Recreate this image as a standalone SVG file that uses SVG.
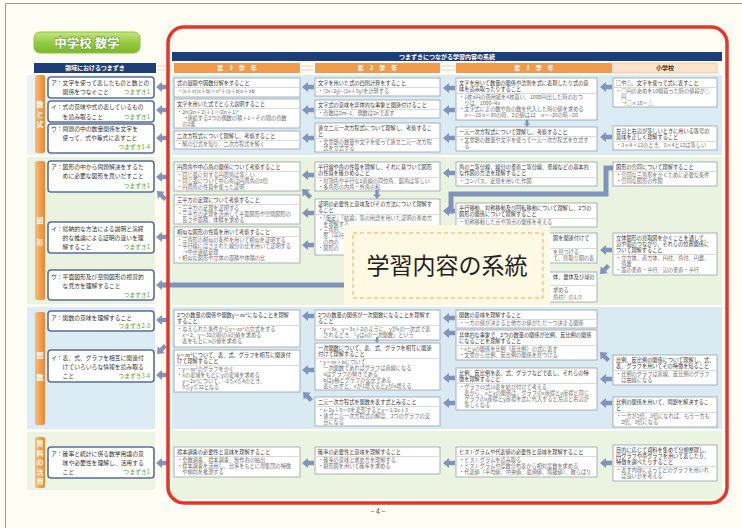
<svg xmlns="http://www.w3.org/2000/svg" xmlns:xlink="http://www.w3.org/1999/xlink" width="742" height="528" viewBox="0 0 742 528">
<defs>
<style>
text{font-family:"Noto Sans CJK JP","Noto Sans",sans-serif}
.box rect{fill:#fff;stroke:#9aa0a8;stroke-width:0.8}
.sep{stroke:#b4b4b4;stroke-width:0.5}
.t{font-size:5.2px;fill:#333}
.b{font-size:5.2px;fill:#6a6a6a}
.lb rect{fill:#fff;stroke:#5a6e98;stroke-width:1.6}
.lt{font-size:5.8px;fill:#333}
.ts{font-size:5.8px;fill:#5ea52a;text-anchor:end}
.ch{fill:#f29a4c}
.cht{font-size:6px;fill:#fff;text-anchor:middle;font-weight:bold}
.tab{fill:url(#tabg)}
.tabt{font-size:7px;fill:#fff;text-anchor:middle;font-weight:bold}
.arr{fill:#7f93bd}
.ln{fill:none;stroke:#7f93bd;stroke-width:5}
</style>
<linearGradient id="tabg" x1="0" y1="0" x2="1" y2="0"><stop offset="0" stop-color="#f8bd78"/><stop offset="1" stop-color="#ea8530"/></linearGradient>
<linearGradient id="grn" x1="0" y1="0" x2="0" y2="1"><stop offset="0" stop-color="#c4e67e"/><stop offset="0.5" stop-color="#96cc44"/><stop offset="1" stop-color="#7cb82c"/></linearGradient>
<path id="al" d="M0,0 L6,-5 L6,-2.2 L12,-2.2 L12,2.2 L6,2.2 L6,5 Z"/>
</defs>
<rect width="742" height="528" fill="#fdfdf4"/>
<path d="M5.5,528 V3.5 H742" fill="none" stroke="#9a9a9a" stroke-width="1"/>

<!-- bands -->
<g id="bands">
<rect x="27" y="75" width="128" height="80" fill="#ebf3f4"/>
<rect x="27" y="157" width="128" height="147" fill="#eaf2e1"/>
<rect x="27" y="307" width="128" height="122" fill="#dcecf4"/>
<rect x="27" y="432" width="128" height="58" fill="#edf4e4"/>
<rect x="172" y="75" width="550" height="80" fill="#dbebf3"/>
<rect x="172" y="157" width="550" height="148" fill="#eaf3df"/>
<rect x="172" y="307" width="550" height="122" fill="#d9eaf3"/>
<rect x="172" y="431" width="550" height="68" fill="#ebf3e1"/>
</g>

<!-- title -->
<g id="title">
<rect x="34" y="32" width="106" height="21" rx="6" fill="url(#grn)" stroke="#8cc23e" stroke-width="1"/>
<text x="87" y="47.5" font-size="12.5" font-weight="bold" fill="#fff" text-anchor="middle" stroke="#5f9a28" stroke-width="1.2" paint-order="stroke">中学校 数学</text>
</g>

<!-- headers -->
<g id="headers">
<rect x="34" y="63" width="122" height="10" fill="#1d3f78"/>
<text x="95" y="70.3" font-size="6" fill="#fff" text-anchor="middle" font-weight="bold">領域におけるつまずき</text>
<rect x="172" y="52" width="550" height="9" fill="#1b3f7a"/>
<text x="447" y="59" font-size="6" fill="#fff" text-anchor="middle" font-weight="bold">つまずきにつながる学習内容の系統</text>
<rect class="ch" x="174" y="63" width="126" height="10"/>
<text class="cht" x="237" y="70.3">第　3　学　年</text>
<rect class="ch" x="315" y="63" width="125" height="10"/>
<text class="cht" x="377.5" y="70.3">第　2　学　年</text>
<rect class="ch" x="456" y="63" width="156" height="10"/>
<text class="cht" x="534" y="70.3">第　1　学　年</text>
<rect x="613" y="63" width="104" height="10" fill="#fce3cd" stroke="#f2b07a" stroke-width="0.6"/>
<text x="665" y="70.3" font-size="6" fill="#333" text-anchor="middle" font-weight="bold">小学校</text>
<path d="M157,66 H171 M157,70 H171 M301,66 H314 M301,70 H314 M441,66 H455 M441,70 H455" stroke="#f6d2b4" stroke-width="1.2"/>
</g>

<!-- left tabs -->
<g id="tabs">
<rect class="tab" x="35" y="75" width="10" height="78" rx="2"/>
<text class="tabt"><tspan x="40" y="107">数</tspan><tspan x="40" y="117">と</tspan><tspan x="40" y="127">式</tspan></text>
<rect class="tab" x="35" y="161" width="10" height="139" rx="2"/>
<text class="tabt"><tspan x="40" y="223">図</tspan><tspan x="40" y="245">形</tspan></text>
<rect class="tab" x="35" y="312" width="10" height="113" rx="2"/>
<text class="tabt"><tspan x="40" y="358">関</tspan><tspan x="40" y="380">数</tspan></text>
<rect class="tab" x="35" y="437" width="10" height="51" rx="2"/>
<text class="tabt" font-size="6.5"><tspan x="40" y="446">資</tspan><tspan x="40" y="455.5">料</tspan><tspan x="40" y="465">の</tspan><tspan x="40" y="474.5">活</tspan><tspan x="40" y="484">用</tspan></text>
</g>

<!-- left boxes -->
<g id="L1a" class="lb"><rect x="48" y="77" width="106" height="21" rx="3"/><text class="lt" x="51" y="84.5">ア：文字を使って表したものと数との</text><text class="lt" x="62.6" y="94">関係をつなぐこと</text><text class="ts" x="150" y="94">つまずき1</text></g>
<g id="L1b" class="lb"><rect x="48" y="101" width="106" height="21" rx="3"/><text class="lt" x="51" y="109">イ：式の意味や式の表しているもの</text><text class="lt" x="62.6" y="118.5">を読み取ること</text><text class="ts" x="150" y="118.5">つまずき1</text></g>
<g id="L1c" class="lb"><rect x="48" y="124" width="106" height="29" rx="3"/><text class="lt" x="51" y="131">ウ：問題の中の数量関係を文字を</text><text class="lt" x="62.6" y="140">使って、式や等式に表すこと</text><text class="ts" x="150" y="149">つまずき1-4</text></g>
<g id="L2a" class="lb"><rect x="48" y="161" width="106" height="31" rx="3"/><text class="lt" x="51" y="169">ア：図形の中から問題解決をするた</text><text class="lt" x="62.6" y="178">めに必要な図形を見いだすこと</text><text class="ts" x="150" y="187.5">つまずき1</text></g>
<g id="L2b" class="lb"><rect x="48" y="222" width="106" height="31" rx="3"/><text class="lt" x="51" y="231">イ：帰納的な方法による説明と演繹</text><text class="lt" x="62.6" y="240">的な推論による証明の違いを理</text><text class="lt" x="62.6" y="249">解すること</text><text class="ts" x="150" y="249">つまずき1</text></g>
<g id="L2c" class="lb"><rect x="48" y="270" width="106" height="30" rx="3"/><text class="lt" x="51" y="279">ウ：平面図形及び空間図形の視覚的</text><text class="lt" x="62.6" y="288">な見方を理解すること</text><text class="ts" x="150" y="297">つまずき1</text></g>
<g id="L3a" class="lb"><rect x="48" y="311" width="106" height="20" rx="3"/><text class="lt" x="51" y="319.5">ア：関数の意味を理解すること</text><text class="ts" x="150" y="328">つまずき2-3</text></g>
<g id="L3b" class="lb"><rect x="48" y="350" width="106" height="32" rx="3"/><text class="lt" x="51" y="360">イ：表、式、グラフを相互に関連付</text><text class="lt" x="62.6" y="369">けていろいろな情報を読み取る</text><text class="lt" x="62.6" y="378">こと</text><text class="ts" x="150" y="378">つまずき3-4</text></g>
<g id="L4a" class="lb"><rect x="48" y="447" width="106" height="31" rx="3"/><text class="lt" x="51" y="456">ア：確率と統計に係る数学用語の意</text><text class="lt" x="62.6" y="465">味や必要性を理解し、活用する</text><text class="lt" x="62.6" y="474">こと</text><text class="ts" x="150" y="474">つまずき1</text></g>

<!-- Grade 3 -->
<g id="g3a" class="box"><rect x="174" y="78" width="126" height="19"/><text class="t" x="177" y="84.5">式の展開や因数分解をすること</text><line class="sep" x1="175" y1="87.5" x2="299" y2="87.5"/><text class="b" x="177" y="93.3">・(x＋a)(x＋b)＝x²＋(a＋b)x＋ab</text></g>
<g id="g3b" class="box"><rect x="174" y="99" width="126" height="29"/><text class="t" x="177" y="105.5">文字を用いた式でとらえ説明すること</text><line class="sep" x1="175" y1="108.5" x2="299" y2="108.5"/><text class="b" x="177" y="114.3">・2n(2n＋2)＋1＝(2n＋1)²</text><text class="b" x="177" y="120.3">　→連続する2つの偶数の積＋1＝その間の奇数</text><text class="b" x="177" y="126.3">　の2乗</text></g>
<g id="g3c" class="box"><rect x="174" y="131" width="126" height="18"/><text class="t" x="177" y="137.5">二次方程式について理解し、考察すること</text><line class="sep" x1="175" y1="140.5" x2="299" y2="140.5"/><text class="b" x="177" y="146.3">・解の公式を知り、二次方程式を解く</text></g>
<g id="g3d" class="box"><rect x="174" y="162" width="126" height="29"/><text class="t" x="177" y="168.5">円周角や中心角の関係について考察すること</text><line class="sep" x1="175" y1="171.5" x2="299" y2="171.5"/><text class="b" x="177" y="177.3">・同じ弧に対する円周角は等しい</text><text class="b" x="177" y="183.3">・同じ弧について中心角は円周角の2倍</text><text class="b" x="177" y="189.3">・円周角の性質を使った証明</text></g>
<g id="g3e" class="box"><rect x="174" y="195" width="126" height="29"/><text class="t" x="177" y="201.5">三平方の定理について考察すること</text><line class="sep" x1="175" y1="204.5" x2="299" y2="204.5"/><text class="b" x="177" y="210.3">・三平方の定理を証明する</text><text class="b" x="177" y="216.3">・三平方の定理を活用して平面図形や空間図形の</text><text class="b" x="177" y="222.3">　長さや面積、体積を求める</text></g>
<g id="g3f" class="box"><rect x="174" y="227" width="126" height="36"/><text class="t" x="177" y="233.5">相似な図形の性質を用いて考察すること</text><line class="sep" x1="175" y1="236.5" x2="299" y2="236.5"/><text class="b" x="177" y="242.3">・三角形の相似の条件を用いて相似を証明する</text><text class="b" x="177" y="248.3">・平行線にはさまれた線分の比を用いて証明する</text><text class="b" x="177" y="254.3">　→中点連結定理</text><text class="b" x="177" y="260.3">・相似な図形や立体の面積や体積の比</text></g>
<g id="g3g" class="box"><rect x="174" y="310" width="126" height="37"/><text class="t" x="177" y="316.5">2つの数量の関係や関数y＝ax²になることを理解</text><text class="t" x="177" y="322.5">すること</text><line class="sep" x1="175" y1="325.5" x2="299" y2="325.5"/><text class="b" x="177" y="331.3">・与えられた条件からy＝ax²の立式をする</text><text class="b" x="177" y="337.3">　x＝2、y＝32の時のaの値を求める</text><text class="b" x="177" y="343.3">　表をもとにaの値を求める</text></g>
<g id="g3h" class="box"><rect x="174" y="350" width="126" height="42"/><text class="t" x="177" y="356.5">y＝ax²について、表、式、グラフを相互に関連付</text><text class="t" x="177" y="362.5">けて理解すること</text><line class="sep" x1="175" y1="365.5" x2="299" y2="365.5"/><text class="b" x="177" y="371.3">・y＝ax²のグラフをかく</text><text class="b" x="177" y="377.3">・xの変域をもとにyの変域を求める</text><text class="b" x="177" y="383.3">　y＝2x²について、−2≦x≦4のとき、</text><text class="b" x="177" y="389.3">　0≦y≦32となる</text></g>
<g id="g3i" class="box"><rect x="174" y="447" width="126" height="30"/><text class="t" x="177" y="453.5">標本調査の必要性と意味を理解すること</text><line class="sep" x1="175" y1="456.5" x2="299" y2="456.5"/><text class="b" x="177" y="462.3">・全数調査、標本調査、無作為の抽出</text><text class="b" x="177" y="468.3">・標本調査を活用し、比率をもとに母集団の特徴</text><text class="b" x="177" y="474.3">　や傾向を推測する</text></g>

<!-- Grade 2 -->
<g id="g2a" class="box"><rect x="315" y="78" width="125" height="18"/><text class="t" x="318" y="84.5">文字を用いた式の四則計算をすること</text><line class="sep" x1="316" y1="87.5" x2="439" y2="87.5"/><text class="b" x="318" y="93.3">・(3x−2y)−(2x＋5y)を計算する</text></g>
<g id="g2b" class="box"><rect x="315" y="100" width="125" height="18"/><text class="t" x="318" y="106.5">文字式の意味を具体的な事象と関連付けること</text><line class="sep" x1="316" y1="109.5" x2="439" y2="109.5"/><text class="b" x="318" y="115.3">・奇数は2m−1、偶数は2nで表す</text></g>
<g id="g2c" class="box"><rect x="315" y="123" width="125" height="29"/><text class="t" x="318" y="129.5">連立二元一次方程式について理解し、考察するこ</text><text class="t" x="318" y="135.5">と</text><line class="sep" x1="316" y1="138.5" x2="439" y2="138.5"/><text class="b" x="318" y="144.3">・文章題の数量や文字を使って連立二元一次方程</text><text class="b" x="318" y="150.3">　式を立式する</text></g>
<g id="g2d" class="box"><rect x="315" y="162" width="125" height="29"/><text class="t" x="318" y="168.5">平行線や角の性質を理解し、それに基づいて図形</text><text class="t" x="318" y="174.5">の性質を確かめること</text><line class="sep" x1="316" y1="177.5" x2="439" y2="177.5"/><text class="b" x="318" y="183.3">・対頂角や平行な2直線の同位角、錯角は等しい</text><text class="b" x="318" y="189.3">・多角形の内角・外角の和</text></g>
<g id="g2e" class="box"><rect x="315" y="199" width="125" height="56"/><text class="t" x="318" y="205.5">証明の必要性と意味及びその方法について理解す</text><text class="t" x="318" y="211.5">ること</text><line class="sep" x1="316" y1="214.5" x2="439" y2="214.5"/><text class="b" x="318" y="220.3">・「仮定」「結論」等の用語を用いた証明の進め方</text><text class="b" x="318" y="226.3">　を理解する</text><text class="b" x="318" y="232.3">・三角形、</text><text class="b" x="318" y="238.3">　形（平行</text><text class="b" x="318" y="244.3">　の内の</text><text class="b" x="318" y="250.3">・図形の</text></g>
<g id="g2f" class="box"><rect x="315" y="310" width="125" height="30"/><text class="t" x="318" y="316.5">2つの数量の関係が一次関数になることを理解す</text><text class="t" x="318" y="322.5">ること</text><line class="sep" x1="316" y1="325.5" x2="439" y2="325.5"/><text class="b" x="318" y="331.3">・y＝3x、y＝3x＋2のように、yがxの一次式で表</text><text class="b" x="318" y="337.3">　されるとき、「yはxの一次関数」という</text></g>
<g id="g2g" class="box"><rect x="315" y="343" width="125" height="47"/><text class="t" x="318" y="349.5">一次関数について、表、式、グラフを相互に関連</text><text class="t" x="318" y="355.5">付けて理解すること</text><line class="sep" x1="316" y1="358.5" x2="439" y2="358.5"/><text class="b" x="318" y="364.3">・y＝ax＋bについて</text><text class="b" x="318" y="370.3">　一次関数であればグラフは直線になる</text><text class="b" x="318" y="376.3">　aはグラフの傾きである</text><text class="b" x="318" y="382.3">　bはy軸とグラフの交点である</text><text class="b" x="318" y="388.3">　表に示すと、xが1増えるとyがa増える</text></g>
<g id="g2h" class="box"><rect x="315" y="397" width="125" height="29"/><text class="t" x="318" y="403.5">二元一次方程式を関数を表す式とみること</text><line class="sep" x1="316" y1="406.5" x2="439" y2="406.5"/><text class="b" x="318" y="412.3">・x−2y＋6＝0を変形するとy＝1/2x＋3</text><text class="b" x="318" y="418.3">・連立二元一次方程式の解は、2つのグラフの交</text><text class="b" x="318" y="424.3">　点になる</text></g>
<g id="g2i" class="box"><rect x="315" y="447" width="125" height="27"/><text class="t" x="318" y="453.5">確率の必要性と意味を理解すること</text><line class="sep" x1="316" y1="456.5" x2="439" y2="456.5"/><text class="b" x="318" y="462.3">・確率の意味と求め方を理解する</text><text class="b" x="318" y="468.3">・樹形図を用いて確率を求める</text></g>

<!-- Grade 1 -->
<g id="g1a" class="box"><rect x="456" y="78" width="141" height="42"/><text class="t" x="459" y="84.5">文字を用いて数量の関係や法則を式に表現したり式の意</text><text class="t" x="459" y="90.5">味を読み取ったりすること</text><line class="sep" x1="457" y1="93.5" x2="596" y2="93.5"/><text class="b" x="459" y="99.3">・1枚a円の画用紙を4枚買い、1000円出した時のおつ</text><text class="b" x="459" y="105.3">　りは、1000−4a</text><text class="b" x="459" y="111.3">・文字式に正の数や負の数を代入した時の値を求める</text><text class="b" x="459" y="117.3">　a＝−18 a＝30の時、2の値は12　a＝−20の時 −20</text></g>
<g id="g1b" class="box"><rect x="456" y="127" width="141" height="24"/><text class="t" x="459" y="133.5">一元一次方程式について理解し、考察すること</text><line class="sep" x1="457" y1="136.5" x2="596" y2="136.5"/><text class="b" x="459" y="142.3">・文章題の数量や文字を使って一元一次方程式を立式す</text><text class="b" x="459" y="148.3">　る</text></g>
<g id="g1c" class="box"><rect x="456" y="162" width="141" height="24"/><text class="t" x="459" y="168.5">角の二等分線、線分の垂直二等分線、垂線などの基本的</text><text class="t" x="459" y="174.5">な作図の方法を理解すること</text><line class="sep" x1="457" y1="177.5" x2="596" y2="177.5"/><text class="b" x="459" y="183.3">・コンパス、定規を用いた作図</text></g>
<g id="g1d" class="box"><rect x="456" y="203" width="141" height="24"/><text class="t" x="459" y="209.5">平行移動、対称移動及び回転移動について理解し、2つの</text><text class="t" x="459" y="215.5">図形の関係について理解すること</text><line class="sep" x1="457" y1="218.5" x2="596" y2="218.5"/><text class="b" x="459" y="224.3">・対称移動した点や頂点の関係を考える</text></g>
<g id="g1e" class="box"><rect x="456" y="233" width="141" height="30"/><text class="t" x="553" y="239.5">図を関連付けて</text><line class="sep" x1="457" y1="248.5" x2="596" y2="248.5"/><text class="b" x="553" y="254.3">を見つける</text><text class="b" x="553" y="260.3">て、見取り図の表</text></g>
<g id="g1f" class="box"><rect x="456" y="272" width="141" height="30"/><text class="t" x="553" y="278.5">体、錐体及び球の</text><line class="sep" x1="457" y1="285.5" x2="596" y2="285.5"/><text class="b" x="553" y="292.3">求める</text><text class="b" x="553" y="298.8">角柱）の1/3</text></g>
<g id="g1g" class="box"><rect x="456" y="310" width="141" height="18"/><text class="t" x="459" y="316.5">関数の意味を理解すること</text><line class="sep" x1="457" y1="319.5" x2="596" y2="319.5"/><text class="b" x="459" y="325.3">・一方の値が決まると他方の値がただ一つ決まる関係</text></g>
<g id="g1h" class="box"><rect x="456" y="330" width="141" height="30"/><text class="t" x="459" y="336.5">具体的な事象で、2つの数量の関係が比例、反比例の関係</text><text class="t" x="459" y="342.5">になることを理解すること</text><line class="sep" x1="457" y1="345.5" x2="596" y2="345.5"/><text class="b" x="459" y="351.3">・xとyの関係を比例（反比例）の式に表す</text><text class="b" x="459" y="357.3">・文章から比例、反比例の関係を見つける</text></g>
<g id="g1i" class="box"><rect x="456" y="368" width="141" height="42"/><text class="t" x="459" y="374.5">比例、反比例を表、式、グラフなどで表し、それらの特</text><text class="t" x="459" y="380.5">徴を理解すること</text><line class="sep" x1="457" y1="383.5" x2="596" y2="383.5"/><text class="b" x="459" y="389.3">・グラフ⇔式⇔表を結び付けて考える</text><text class="b" x="459" y="395.3">　表から、xとyの関係は、グラフのx座標とy座標と同じ</text><text class="b" x="459" y="401.3">　グラフのx座標とy座標を式に代入すると左辺と右辺が</text><text class="b" x="459" y="407.3">　等しくなる</text></g>
<g id="g1j" class="box"><rect x="456" y="447" width="141" height="30"/><text class="t" x="459" y="453.5">ヒストグラムや代表値の必要性と意味を理解すること</text><line class="sep" x1="457" y1="456.5" x2="596" y2="456.5"/><text class="b" x="459" y="462.3">・ヒストグラムを読み取る</text><text class="b" x="459" y="468.3">・ヒストグラムや度数分布表から相対度数を求める</text><text class="b" x="459" y="474.3">・代表値（平均値、中央値、最頻値、階級値）、散らばり</text></g>

<!-- Elementary -->
<g id="esa" class="box"><rect x="613" y="78" width="104" height="29"/><text class="t" x="616" y="84.5">□や△、文字を使って式に表すこと</text><line class="sep" x1="614" y1="87.5" x2="716" y2="87.5"/><text class="b" x="616" y="93.3">・□円のあめを10個買った時の値段が△</text><text class="b" x="616" y="99.3">　円</text><text class="b" x="616" y="105.3">　→□×10＝△</text></g>
<g id="esb" class="box"><rect x="613" y="126" width="104" height="24"/><text class="t" x="616" y="132.5">左辺と右辺が等しいときに用いる等号の</text><text class="t" x="616" y="138.5">意味を正しく理解すること</text><line class="sep" x1="614" y1="141.5" x2="716" y2="141.5"/><text class="b" x="616" y="147.3">・3×4＝12のとき、3×4と12は等しい</text></g>
<g id="esc" class="box"><rect x="613" y="162" width="104" height="24"/><text class="t" x="616" y="168.5">図形の合同について理解すること</text><line class="sep" x1="614" y1="171.5" x2="716" y2="171.5"/><text class="b" x="616" y="177.3">・合同な三角形をかくために必要な条件</text><text class="b" x="616" y="183.3">・合同な図形の作図</text></g>
<g id="esd" class="box"><rect x="613" y="233" width="104" height="42"/><text class="t" x="616" y="239.5">立体図形の見取図をかくことを通して、</text><text class="t" x="616" y="245.5">辺や面のつながり、それらの位置関係に</text><text class="t" x="616" y="251.5">ついて理解すること</text><line class="sep" x1="614" y1="254.5" x2="716" y2="254.5"/><text class="b" x="616" y="260.3">・立方体、直方体、円柱、角柱、円錐、</text><text class="b" x="616" y="266.3">　角錐</text><text class="b" x="616" y="272.3">・面の垂直・平行、辺の垂直・平行</text></g>
<g id="ese" class="box"><rect x="613" y="355" width="104" height="30"/><text class="t" x="616" y="361.5">比例、反比例の関係について理解し、式、</text><text class="t" x="616" y="367.5">表、グラフを用いてその特徴を知ること</text><line class="sep" x1="614" y1="370.5" x2="716" y2="370.5"/><text class="b" x="616" y="376.3">・比例のグラフは直線、反比例のグラフ</text><text class="b" x="616" y="382.3">　は曲線になる</text></g>
<g id="esf" class="box"><rect x="613" y="397" width="104" height="30"/><text class="t" x="616" y="403.5">比例の関係を用いて、問題を解決するこ</text><text class="t" x="616" y="409.5">と</text><line class="sep" x1="614" y1="412.5" x2="716" y2="412.5"/><text class="b" x="616" y="418.3">・一方が2倍、3倍になれば、もう一方も</text><text class="b" x="616" y="424.3">　2倍、3倍になる</text></g>
<g id="esg" class="box"><rect x="613" y="445" width="104" height="36"/><text class="t" x="616" y="451.5">目的に応じて資料を集めて分類整理し、</text><text class="t" x="616" y="457.5">円グラフや帯グラフを用いて表したり、</text><text class="t" x="616" y="463.5">特徴を調べたりすること</text><line class="sep" x1="614" y1="466.5" x2="716" y2="466.5"/><text class="b" x="616" y="472.3">・表す内容によってどのグラフを用いれ</text><text class="b" x="616" y="478.3">　ば良いかを考える</text></g>

<!-- connectors -->
<g id="connectors" class="arr">
<path class="ln" d="M613,168 H606 V194 H451 V211 H449"/>
<use xlink:href="#al" href="#al" x="443" y="211"/>
<path class="ln" d="M456,285 H162"/>
<use xlink:href="#al" href="#al" x="156" y="285"/>
<use xlink:href="#al" href="#al" x="156" y="87"/>
<use xlink:href="#al" href="#al" x="156" y="110"/>
<use xlink:href="#al" href="#al" x="156" y="138"/>
<use xlink:href="#al" href="#al" x="156" y="177"/>
<use xlink:href="#al" href="#al" x="156" y="237"/>
<use xlink:href="#al" href="#al" x="156" y="320"/>
<use xlink:href="#al" href="#al" x="156" y="375"/>
<use xlink:href="#al" href="#al" x="156" y="463"/>
<use xlink:href="#al" href="#al" transform="translate(157,191) rotate(45)"/>
<use xlink:href="#al" href="#al" transform="translate(157,354) rotate(-45)"/>
<use xlink:href="#al" href="#al" x="302" y="87"/>
<use xlink:href="#al" href="#al" x="302" y="110"/>
<use xlink:href="#al" href="#al" x="302" y="138"/>
<use xlink:href="#al" href="#al" x="302" y="175"/>
<use xlink:href="#al" href="#al" x="302" y="213"/>
<use xlink:href="#al" href="#al" x="302" y="245"/>
<use xlink:href="#al" href="#al" x="302" y="316"/>
<use xlink:href="#al" href="#al" x="302" y="370"/>
<use xlink:href="#al" href="#al" x="302" y="463"/>
<use xlink:href="#al" href="#al" transform="translate(302,189) rotate(45)"/>
<use xlink:href="#al" href="#al" transform="translate(303,392) rotate(45)"/>
<use xlink:href="#al" href="#al" x="443" y="88"/>
<use xlink:href="#al" href="#al" x="443" y="110"/>
<use xlink:href="#al" href="#al" x="443" y="138"/>
<use xlink:href="#al" href="#al" x="443" y="173"/>
<use xlink:href="#al" href="#al" x="443" y="318"/>
<use xlink:href="#al" href="#al" x="443" y="333"/>
<use xlink:href="#al" href="#al" x="443" y="378"/>
<use xlink:href="#al" href="#al" x="443" y="403"/>
<use xlink:href="#al" href="#al" x="443" y="463"/>
<use xlink:href="#al" href="#al" x="600" y="87"/>
<use xlink:href="#al" href="#al" x="600" y="137"/>
<use xlink:href="#al" href="#al" x="600" y="250"/>
<use xlink:href="#al" href="#al" x="600" y="379"/>
<use xlink:href="#al" href="#al" x="600" y="403"/>
<use xlink:href="#al" href="#al" x="600" y="463"/>
<use xlink:href="#al" href="#al" transform="translate(600,274) rotate(-45)"/>
<use xlink:href="#al" href="#al" transform="translate(600,352) rotate(45)"/>
<use xlink:href="#al" href="#al" transform="translate(377,199) rotate(-90) scale(0.75)"/>
<use xlink:href="#al" href="#al" transform="translate(527,127) rotate(-90) scale(0.6)"/>
<use xlink:href="#al" href="#al" transform="translate(377,343) rotate(-90) scale(0.5)"/>
</g>

<!-- frame -->
<rect id="frame" x="168" y="27" width="559" height="476" rx="16" fill="none" stroke="#e8352b" stroke-width="3.5"/>

<!-- overlay -->
<g id="overlay">
<rect x="344" y="225" width="206" height="80" fill="#fdf9e2"/>
<rect x="353" y="233" width="190" height="65" fill="none" stroke="#f4a767" stroke-width="1" stroke-dasharray="4 3"/>
<text x="447" y="274" font-size="23" fill="#222" text-anchor="middle">学習内容の系統</text>
</g>

<text x="378" y="514" font-size="7" fill="#555" text-anchor="middle">− 4 −</text>
</svg>
